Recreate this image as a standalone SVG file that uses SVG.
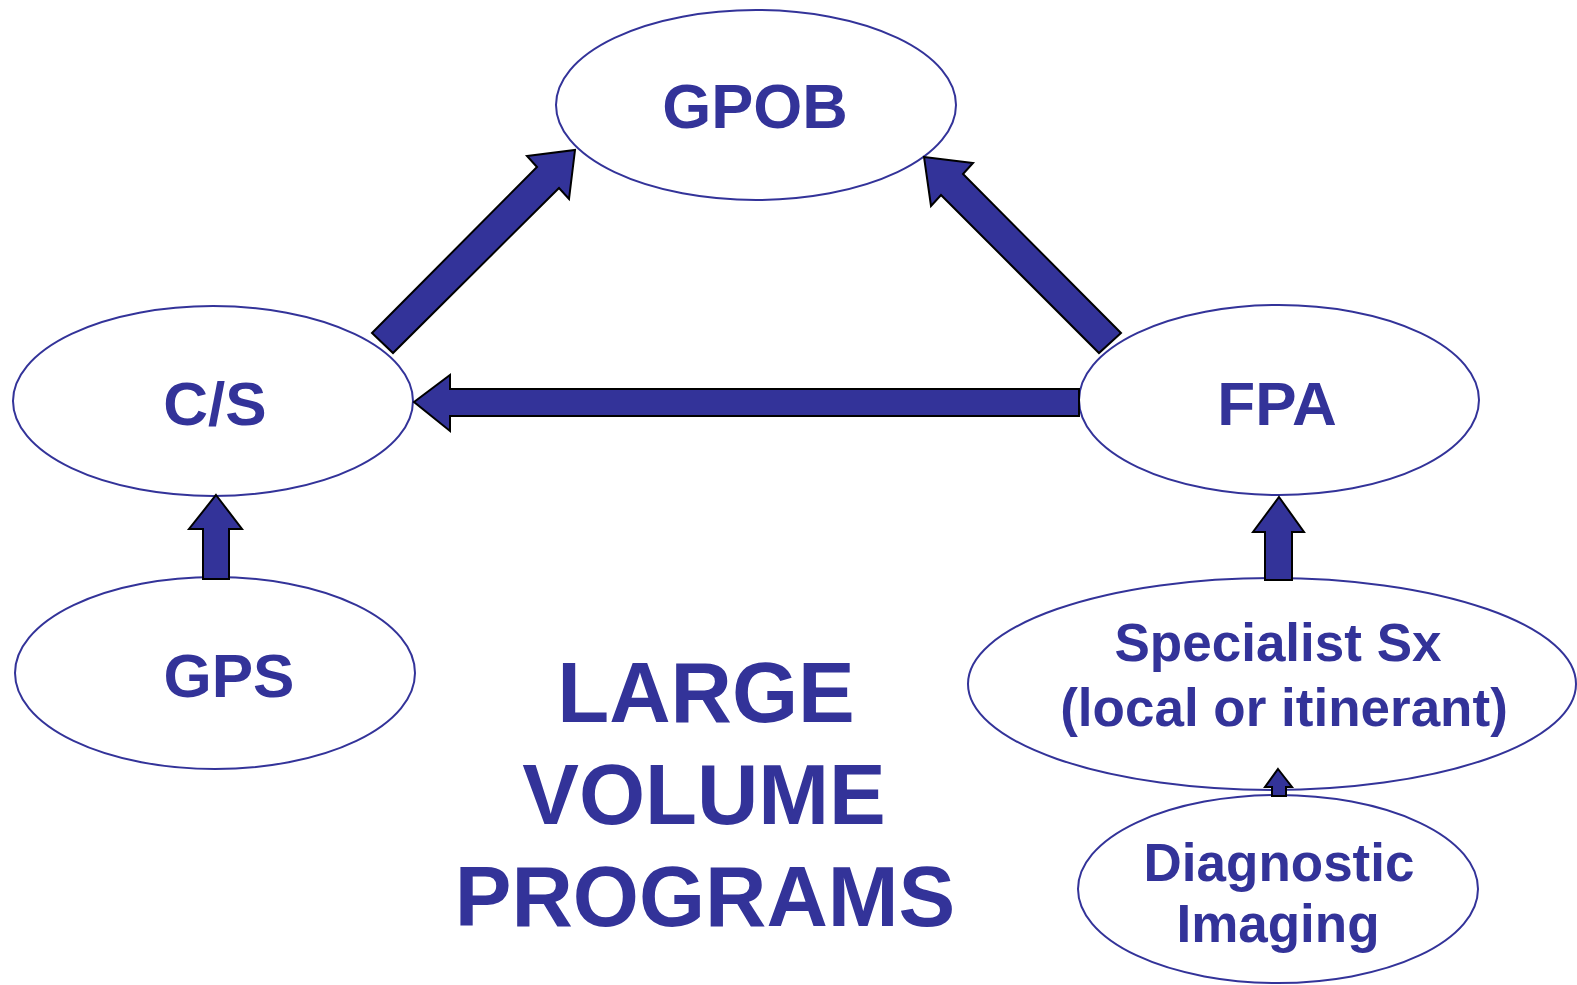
<svg xmlns="http://www.w3.org/2000/svg" width="1577" height="985" viewBox="0 0 1577 985">
<style>
.node ellipse { fill: none; stroke: #333399; stroke-width: 2; }
.lbl { font-family: "Liberation Sans", Arial, sans-serif; font-weight: bold; fill: #333399; text-anchor: middle; }
.arrow { fill: #333399; stroke: #000000; stroke-width: 2; stroke-linejoin: miter; }
</style>
<rect x="0" y="0" width="1577" height="985" fill="#ffffff"/>
<g id="node-gpob" class="node">
  <ellipse cx="756" cy="105" rx="200" ry="95"/>
  <text class="lbl" x="755" y="128" font-size="63">GPOB</text>
</g>
<g id="node-cs" class="node">
  <ellipse cx="213" cy="401" rx="200" ry="95"/>
  <text class="lbl" x="215" y="425" font-size="62">C/S</text>
</g>
<g id="node-fpa" class="node">
  <ellipse cx="1279" cy="400" rx="200" ry="95"/>
  <text class="lbl" x="1277" y="425" font-size="62">FPA</text>
</g>
<g id="node-gps" class="node">
  <ellipse cx="215" cy="673" rx="200" ry="96"/>
  <text class="lbl" x="229" y="697" font-size="62">GPS</text>
</g>
<g id="node-specialist" class="node">
  <ellipse cx="1272" cy="684" rx="304" ry="106"/>
  <text class="lbl" x="1278" y="661" font-size="53">Specialist Sx</text>
  <text class="lbl" x="1284" y="726" font-size="53">(local or itinerant)</text>
</g>
<g id="node-diagnostic" class="node">
  <ellipse cx="1278" cy="889" rx="200" ry="94"/>
  <text class="lbl" x="1279" y="881" font-size="53">Diagnostic</text>
  <text class="lbl" x="1278" y="942" font-size="53">Imaging</text>
</g>
<g id="title">
  <text class="lbl" x="706" y="722" font-size="85">LARGE</text>
  <text class="lbl" x="704" y="824" font-size="85">VOLUME</text>
  <text class="lbl" x="705" y="926" font-size="85">PROGRAMS</text>
</g>
<g id="connectors">
  <polygon class="arrow" points="372,333 537,167 527,156 575,150 569,199 559,188 393,353"/>
  <polygon class="arrow" points="924,157 973,163 963,174 1121,333 1099,353 941,195 931,206"/>
  <polygon class="arrow" points="414,402 450,375 450,389 1079,389 1079,416 450,416 450,431"/>
  <polygon class="arrow" points="216,495 242,529 229,529 229,579 203,579 203,529 189,529"/>
  <polygon class="arrow" points="1279,497 1304,532 1292,532 1292,580 1265,580 1265,532 1253,532"/>
  <polygon class="arrow" points="1278,769 1292,787 1286,787 1286,796 1272,796 1272,787 1265,787"/>
</g>
</svg>
